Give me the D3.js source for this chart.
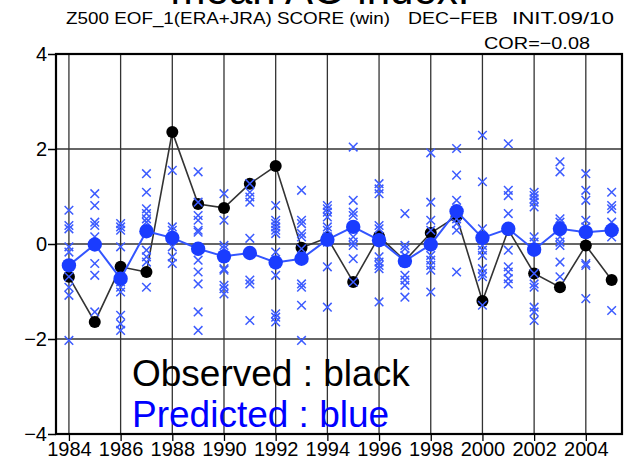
<!DOCTYPE html>
<html>
<head>
<meta charset="utf-8">
<script src="https://cdn.jsdelivr.net/npm/d3@7"></script>
<style>
  body { margin: 0; background: #fff; }
  text { font-family: "Liberation Sans", Arial, sans-serif; }
</style>
</head>
<body>
<div id="chart"></div>
<script>
var width = 625;
var height = 460;

// winters (DEC-FEB), labelled by year
const years = [1984, 1985, 1986, 1987, 1988, 1989, 1990, 1991, 1992, 1993, 1994,
  1995, 1996, 1997, 1998, 1999, 2000, 2001, 2002, 2003, 2004, 2005];

const observed = [-0.69, -1.64, -0.48, -0.59, 2.36, 0.84, 0.76, 1.27, 1.64, -0.08, 0.13,
  -0.80, 0.16, -0.35, 0.23, 0.58, -1.20, 0.30, -0.62, -0.91, -0.03, -0.76];

const predicted = [-0.45, -0.01, -0.73, 0.27, 0.13, -0.10, -0.26, -0.19, -0.39, -0.31, 0.09,
  0.36, 0.08, -0.36, -0.01, 0.69, 0.13, 0.32, -0.12, 0.32, 0.25, 0.29];

// ensemble members, one list per winter
const members = [
  [0.71, 0.39, 0.32, -0.06, -0.17, -0.69, -0.91, -1.08, -2.03],
  [1.06, 0.81, 0.46, 0.39, 0.15, -0.41, -0.66, -1.43],
  [0.43, 0.36, 0.29, -0.06, -0.80, -0.91, -1.01, -1.50, -1.68, -1.82],
  [1.48, 1.09, 0.74, 0.64, 0.53, 0.46, 0.29, -0.13, -0.27, -0.38, -0.91],
  [1.55, 0.36, 0.29, -0.06, -0.27, -0.41],
  [1.52, 0.88, 0.60, 0.50, 0.29, 0.25, -0.34, -0.59, -0.84, -1.43, -1.82],
  [1.06, 0.50, -0.03, -0.10, -0.52, -0.55, -0.87, -0.94, -1.05],
  [1.27, 1.09, 0.99, 0.88, 0.12, -0.76, -0.84, -1.61],
  [0.81, 0.50, 0.43, 0.36, 0.29, 0.22, -0.17, -0.38, -0.66, -1.47, -1.54, -1.64],
  [1.13, 0.50, 0.43, 0.22, 0.15, -0.10, -0.84, -0.91, -1.29, -2.03],
  [0.81, 0.74, 0.67, 0.57, 0.36, 0.29, 0.15, 0.04, -0.48, -1.33],
  [2.04, 0.92, 0.67, 0.60, 0.15, 0.04, -0.03, -0.31, -0.80],
  [1.27, 1.16, 1.06, 0.39, 0.32, -0.27, -0.38, -0.45, -0.52, -1.22],
  [0.64, -0.03, -0.10, -0.24, -0.66, -0.76, -0.87, -1.12],
  [1.92, 0.88, 0.50, 0.29, -0.03, -0.24, -0.34, -0.45, -0.55, -1.01],
  [2.01, 1.45, 0.92, 0.67, 0.53, 0.43, 0.29, -0.59],
  [2.29, 1.31, 0.32, 0.11, -0.03, -0.13, -0.24, -0.52, -0.62, -0.69, -1.29],
  [2.11, 1.13, 1.02, 0.64, 0.29, -0.13, -0.48, -0.59, -0.73, -0.84],
  [1.09, 1.02, 0.95, 0.88, 0.78, 0.15, 0.04, -0.62, -0.84, -0.91, -1.33, -1.43, -1.61],
  [1.73, 1.52, 0.53, 0.46, 0.29, 0.15, 0.04, -0.03, -0.38, -0.69],
  [1.48, 1.13, 0.92, 0.50, 0.36, -0.41, -0.45, -1.15],
  [1.09, 0.81, 0.74, 0.46, 0.29, 0.15, -1.40]
];

const xTicks = [1984, 1986, 1988, 1990, 1992, 1994, 1996, 1998, 2000, 2002, 2004];
const yTicks = [-4, -2, 0, 2, 4];

var svg = d3
  .select("#chart")
  .append("svg")
  .attr("width", width)
  .attr("height", height);

var x = d3.scaleLinear().domain([1983.5, 2005.4]).range([56, 622]);
var y = d3.scaleLinear().domain([-4, 4]).range([434, 54]);

// grid
svg.append("g")
  .selectAll("line")
  .data(xTicks)
  .join("line")
  .attr("x1", (d) => x(d))
  .attr("x2", (d) => x(d))
  .attr("y1", y(4))
  .attr("y2", y(-4))
  .attr("stroke", "#333")
  .attr("stroke-width", 1.3);

svg.append("g")
  .selectAll("line")
  .data([-2, 0, 2])
  .join("line")
  .attr("x1", x.range()[0])
  .attr("x2", x.range()[1])
  .attr("y1", (d) => y(d))
  .attr("y2", (d) => y(d))
  .attr("stroke", "#333")
  .attr("stroke-width", 1.3);

// axes
var xAxis = svg.append("g")
  .attr("transform", "translate(0," + y(-4) + ")")
  .call(d3.axisBottom(x).tickValues(xTicks).tickFormat(d3.format("d")).tickSize(7).tickSizeOuter(0));
xAxis.select(".domain").remove();
xAxis.selectAll("line").attr("stroke", "#000").attr("stroke-width", 1.3);
xAxis.selectAll("text").attr("font-size", 20).attr("fill", "#000").attr("dy", "0.95em").attr("y", 3);

var yAxis = svg.append("g")
  .attr("transform", "translate(" + x.range()[0] + ",0)")
  .call(d3.axisLeft(y).tickValues(yTicks).tickFormat(d3.format("d")).tickSize(8).tickSizeOuter(0));
yAxis.select(".domain").remove();
yAxis.selectAll("line").attr("stroke", "#000").attr("stroke-width", 1.5);
yAxis.selectAll("text").attr("font-size", 20).attr("fill", "#000").attr("x", -9);

// frame
svg.append("rect")
  .attr("x", x.range()[0])
  .attr("y", y(4))
  .attr("width", x.range()[1] - x.range()[0])
  .attr("height", y(-4) - y(4))
  .attr("fill", "none")
  .attr("stroke", "#000")
  .attr("stroke-width", 2.2);

// observed
var line = d3.line()
  .x((d, i) => x(years[i]))
  .y((d) => y(d));

svg.append("path")
  .attr("d", line(observed))
  .attr("fill", "none")
  .attr("stroke", "#333")
  .attr("stroke-width", 1.6);

svg.append("g")
  .selectAll("circle")
  .data(observed)
  .join("circle")
  .attr("cx", (d, i) => x(years[i]))
  .attr("cy", (d) => y(d))
  .attr("r", 6)
  .attr("fill", "#000");

// ensemble members as crosses
var pts = [];
members.forEach(function (list, i) {
  list.forEach(function (v) { pts.push({ yr: years[i], v: v }); });
});

svg.append("g")
  .selectAll("path")
  .data(pts)
  .join("path")
  .attr("d", (d) => {
    var cx = x(d.yr), cy = y(d.v), s = 4.3;
    return "M" + (cx - s) + "," + (cy - s) + "L" + (cx + s) + "," + (cy + s) +
      "M" + (cx - s) + "," + (cy + s) + "L" + (cx + s) + "," + (cy - s);
  })
  .attr("stroke", "#3d5cff")
  .attr("stroke-width", 1.5)
  .attr("fill", "none");

// predicted mean
svg.append("path")
  .attr("d", line(predicted))
  .attr("fill", "none")
  .attr("stroke", "#3355ff")
  .attr("stroke-width", 2);

svg.append("g")
  .selectAll("circle")
  .data(predicted)
  .join("circle")
  .attr("cx", (d, i) => x(years[i]))
  .attr("cy", (d) => y(d))
  .attr("r", 7.2)
  .attr("fill", "#1a3cff");

// titles
svg.append("text")
  .attr("x", 320)
  .attr("y", 4)
  .attr("text-anchor", "middle")
  .attr("font-size", 42)
  .text("mean AO index.");

svg.append("text")
  .attr("x", 66).attr("y", 24)
  .attr("font-size", 17)
  .attr("textLength", 324).attr("lengthAdjust", "spacingAndGlyphs")
  .text("Z500 EOF_1(ERA+JRA) SCORE (win)");
svg.append("text")
  .attr("x", 408).attr("y", 24)
  .attr("font-size", 17)
  .attr("textLength", 90).attr("lengthAdjust", "spacingAndGlyphs")
  .text("DEC\u2212FEB");
svg.append("text")
  .attr("x", 512).attr("y", 24)
  .attr("font-size", 17)
  .attr("textLength", 102).attr("lengthAdjust", "spacingAndGlyphs")
  .text("INIT.09/10");
svg.append("text")
  .attr("x", 484).attr("y", 49)
  .attr("font-size", 17)
  .attr("textLength", 106).attr("lengthAdjust", "spacingAndGlyphs")
  .text("COR=\u22120.08");

// legend text
svg.append("text")
  .attr("x", 132).attr("y", 386)
  .attr("font-size", 37)
  .attr("fill", "#000")
  .text("Observed : black");
svg.append("text")
  .attr("x", 132).attr("y", 427)
  .attr("font-size", 37)
  .attr("fill", "#0000ff")
  .text("Predicted : blue");
</script>
</body>
</html>
